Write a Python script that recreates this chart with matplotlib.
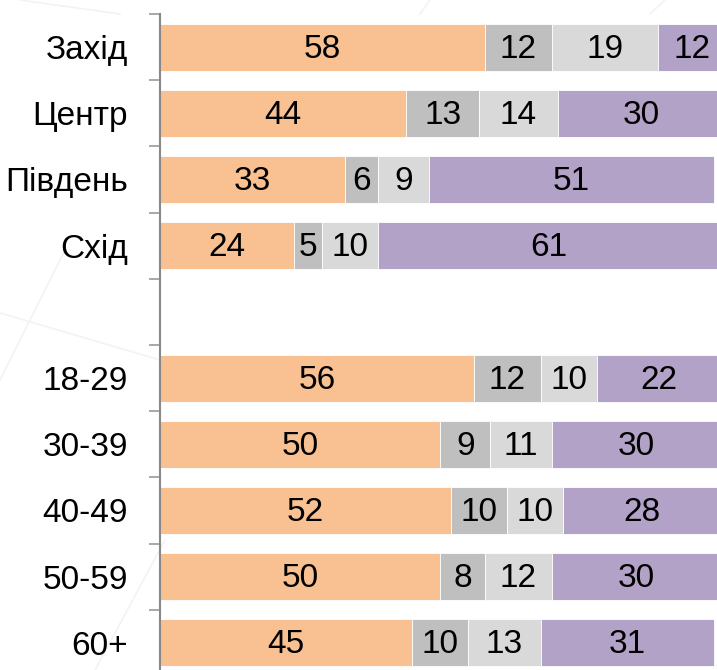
import matplotlib
matplotlib.use("Agg")
import matplotlib.pyplot as plt
from matplotlib.lines import Line2D
import numpy as np

plt.rcParams['font.family'] = ['Liberation Sans', 'DejaVu Sans']

# --- Data ---
categories = ['Захід', 'Центр', 'Південь', 'Схід', '', '18-29', '30-39', '40-49', '50-59', '60+']
s1 = [58, 44, 33, 24, None, 56, 50, 52, 50, 45]
s2 = [12, 13, 6, 5, None, 12, 9, 10, 8, 10]
s3 = [19, 14, 9, 10, None, 10, 11, 10, 12, 13]
s4 = [12, 30, 51, 61, None, 22, 30, 28, 30, 31]

colors = ['#F9C192', '#BFBFBF', '#D9D9D9', '#B3A2C7']

fig = plt.figure(figsize=(7.17, 6.70), dpi=100)

# faint decorative background lines (figure pixel coords)
W, H = 717.0, 670.0
for (x0, y0, x1, y1) in [(0, 313, 160, 360), (65, 250, 0, 380), (95, 670, 165, 540),
                         (20, 0, 120, 14), (420, 14, 430, 0), (650, 14, 665, 0)]:
    fig.add_artist(Line2D([x0 / W, x1 / W], [1 - y0 / H, 1 - y1 / H], color='#F3F3F3',
                          linewidth=1.2, zorder=0))

ax = fig.add_axes([160 / 717, -6 / 670, 560 / 717, 662 / 670])
ax.patch.set_alpha(0)

y = np.arange(len(categories))
left = np.zeros(len(categories))
for series, col in zip([s1, s2, s3, s4], colors):
    vals = np.array([v if v is not None else 0 for v in series], dtype=float)
    ax.barh(y, vals, left=left, height=0.71, color=col, edgecolor='white', linewidth=0.6)
    for yi, (v, l) in enumerate(zip(series, left)):
        if v is not None:
            ax.text(l + v / 2, yi + 0.03, str(v), ha='center', va='center', fontsize=24, color='black')
    left += vals

ax.set_xlim(0, 100)
ax.set_ylim(len(categories) - 0.5, -0.5)
ax.set_yticks(y)
ax.set_yticklabels(categories, fontsize=24)
ax.set_yticks(np.arange(len(categories)) - 0.5, minor=True)
ax.tick_params(axis='y', which='major', length=0, pad=23)
ax.tick_params(axis='y', which='minor', length=8, width=1.2, color='#999999', direction='out')
ax.set_xticks([])
for s in ['top', 'right', 'bottom']:
    ax.spines[s].set_visible(False)
ax.spines['left'].set_color('#888888')
ax.spines['left'].set_linewidth(1.5)

fig.savefig('out.png', dpi=100)
